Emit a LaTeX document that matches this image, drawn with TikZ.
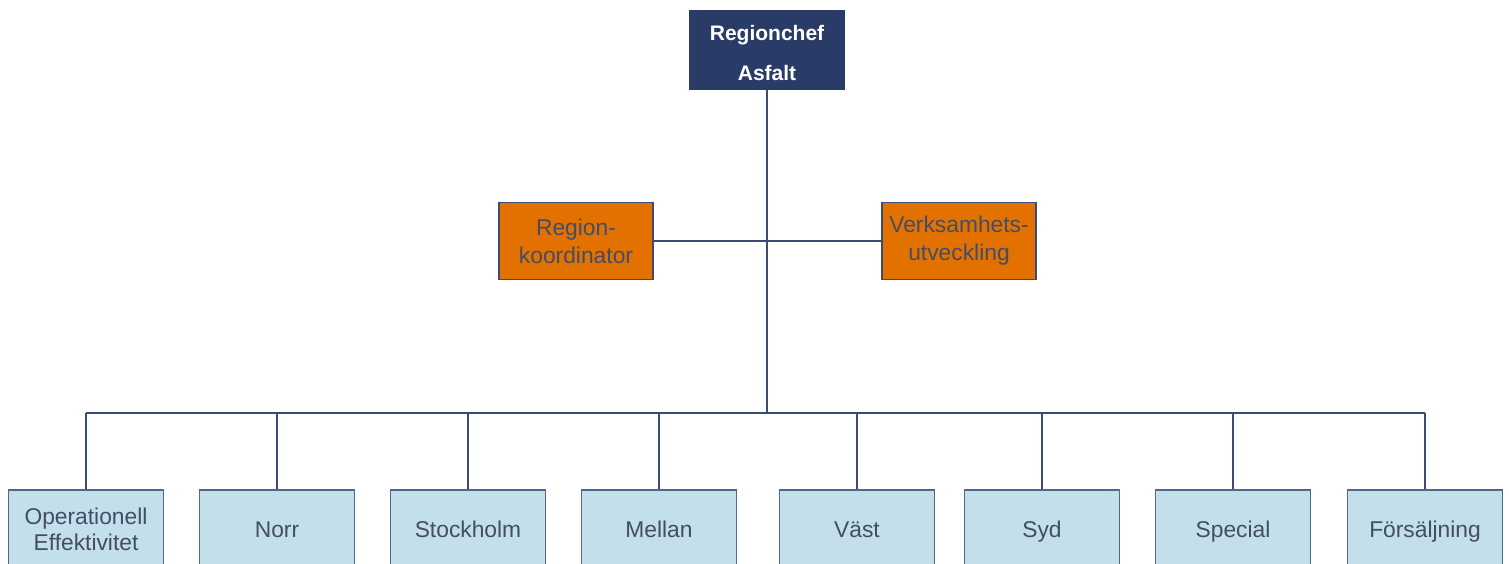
\documentclass[tikz,border=0pt]{standalone}
\usepackage{fontspec}
\setmainfont{Liberation Sans}
\definecolor{navy}{HTML}{293B67}
\definecolor{orangefill}{HTML}{E37100}
\definecolor{lightfill}{HTML}{C2DFEA}
\definecolor{linecol}{HTML}{3B4B78}
\definecolor{unitedge}{HTML}{55668E}
\definecolor{textcol}{HTML}{434D68}
\begin{document}
\begin{tikzpicture}[x=1pt,y=-1pt,
  box/.style={draw=linecol, line width=1.8pt, minimum width=154pt,
    minimum height=77pt, inner sep=0pt, align=center, text=textcol},
  headbox/.style={box, fill=navy, draw=navy, text=white,
    minimum width=155pt, minimum height=78pt,
    text height=61.3pt, text depth=0pt,
    font=\fontsize{21}{40}\selectfont\bfseries},
  staffbox/.style={box, fill=orangefill, font=\fontsize{22.8}{28}\selectfont},
  unitbox/.style={box, fill=lightfill, draw=unitedge, minimum width=155pt,
    minimum height=78pt, font=\fontsize{22.8}{26}\selectfont},
  oneline/.style={text height=16.3pt, text depth=0pt},
  link/.style={draw=linecol, line width=2pt}]
\useasboundingbox (0,0) rectangle (1509,564);
\clip (0,0) rectangle (1509,564);

% head of the region
\node[headbox] (chef) at (767,50) {Regionchef\\Asfalt};

% staff functions
\node[staffbox] (koord) at (576,241) {Region-\\koordinator};
\node[staffbox] (utv) at (959,241) {Verksamhets-\\utveckling};

% operating units
\node[unitbox] (u1) at (86,529) {Operationell\\Effektivitet};
\node[unitbox, oneline] (u2) at (277,529) {Norr};
\node[unitbox, oneline] (u3) at (468,529) {Stockholm};
\node[unitbox, oneline] (u4) at (659,529) {Mellan};
\node[unitbox, oneline] (u5) at (857,529) {Väst};
\node[unitbox, oneline] (u6) at (1042,529) {Syd};
\node[unitbox, oneline] (u7) at (1233,529) {Special};
\node[unitbox, oneline] (u8) at (1425,529) {Försäljning};

% bus junction below the head
\coordinate (bus) at (767,413);

\path[link] (chef.south) -- (bus);
\path[link] (koord.east) -- (utv.west);
\path[link] (u1.north |- bus) -- (u8.north |- bus);
\foreach \u in {u1,u2,u3,u4,u5,u6,u7,u8}
  \path[link] (\u.north) -- (\u.north |- bus);
\end{tikzpicture}
\end{document}
